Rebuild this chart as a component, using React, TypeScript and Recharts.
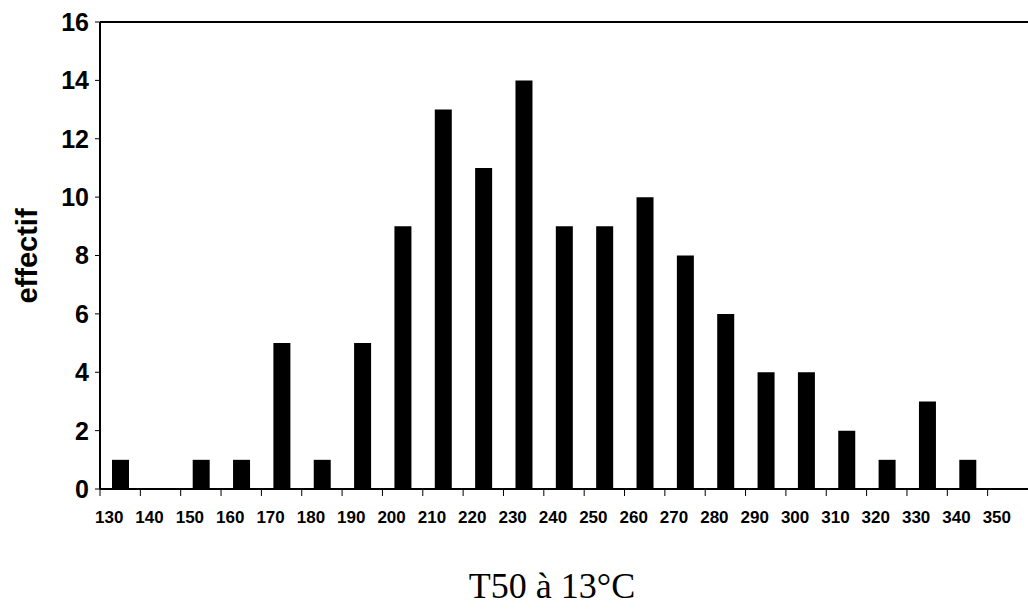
import { BarChart, Bar, XAxis, YAxis, ReferenceLine } from "recharts";

const classes = [
  "130", "140", "150", "160", "170", "180", "190", "200", "210", "220", "230", "240",
  "250", "260", "270", "280", "290", "300", "310", "320", "330", "340", "350",
];
const effectifs = [1, 0, 1, 1, 5, 1, 5, 9, 13, 11, 14, 9, 9, 10, 8, 6, 4, 4, 2, 1, 3, 1, 0];
const yTicks = [0, 2, 4, 6, 8, 10, 12, 14, 16];

const data = classes.map((c, i) => ({ classe: c, effectif: effectifs[i] }));

const W = 1028;
const H = 610;
const LEFT = 100;
const BAND = (W - LEFT) / classes.length;
const FONT = "'Liberation Sans', Arial, sans-serif";

function XTick({ x, y, payload }: { x?: number; y?: number; payload?: { value: string } }) {
  const x0 = (x ?? 0) - BAND / 2;
  const y0 = y ?? 0;
  return (
    <g>
      <line x1={x0} x2={x0} y1={y0} y2={y0 + 7} stroke="#000" strokeWidth={1} />
      <text
        x={(x ?? 0) - 11}
        y={y0 + 34}
        textAnchor="middle"
        fontFamily={FONT}
        fontWeight="bold"
        fontSize={17}
        fill="#000"
      >
        {payload?.value}
      </text>
    </g>
  );
}

function YTitle() {
  return (
    <text
      x={37}
      y={256}
      transform="rotate(-90 37 256)"
      textAnchor="middle"
      fontFamily={FONT}
      fontWeight="bold"
      fontSize={29}
      fill="#000"
    >
      effectif
    </text>
  );
}

function XTitle() {
  return (
    <text
      x={552}
      y={598}
      textAnchor="middle"
      fontFamily="'Liberation Serif', 'Times New Roman', serif"
      fontSize={36}
      fill="#000"
    >
      T50 à 13°C
    </text>
  );
}

export default function App() {
  return (
    <div style={{ position: "absolute", left: 0, top: 0, width: W, height: H, background: "#fff", overflow: "hidden" }}>
      <BarChart width={W} height={H} data={data} margin={{ top: 22, right: 0, bottom: 0, left: 0 }}>
        <XAxis
          dataKey="classe"
          height={H - 489}
          interval={0}
          tickSize={0}
          tickMargin={0}
          tickLine={false}
          axisLine={{ stroke: "#000", strokeWidth: 2 }}
          tick={<XTick />}
          label={<XTitle />}
        />
        <YAxis
          width={LEFT}
          domain={[0, 16]}
          ticks={yTicks}
          interval={0}
          tickSize={5}
          tickMargin={6}
          tickLine={{ stroke: "#000" }}
          axisLine={{ stroke: "#000", strokeWidth: 2 }}
          tick={{ fill: "#000", fontSize: 25, fontWeight: "bold", fontFamily: FONT }}
          label={<YTitle />}
        />
        <ReferenceLine y={16} stroke="#000" strokeWidth={2} />
        <Bar dataKey="effectif" fill="#000" barSize={17} isAnimationActive={false} />
      </BarChart>
    </div>
  );
}
